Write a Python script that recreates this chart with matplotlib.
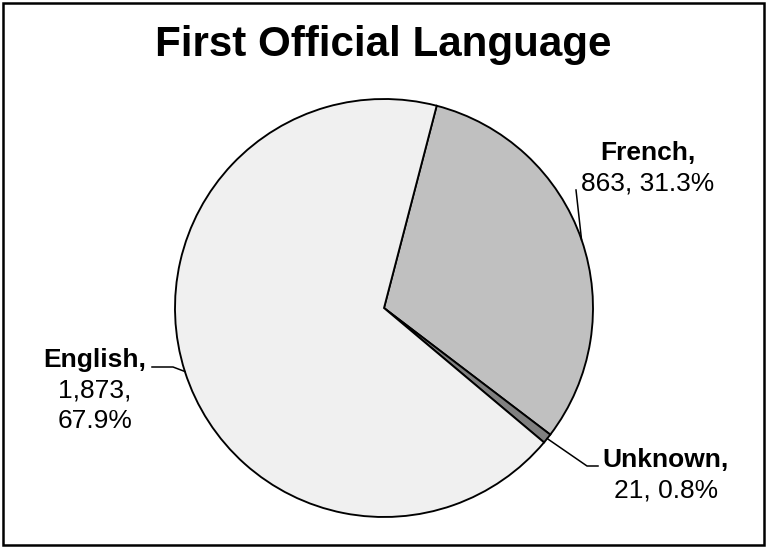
import matplotlib.pyplot as plt
import numpy as np
from matplotlib.patches import Rectangle

# данные
languages = ["French", "Unknown", "English"]
counts = [863, 21, 1873]
shares = ["31.3%", "0.8%", "67.9%"]
colours = ["#c0c0c0", "#808080", "#f0f0f0"]

W, H = 767, 548
CX, CY, R = 384, 308, 209

plt.rcParams["font.family"] = ["Liberation Sans", "DejaVu Sans"]

fig = plt.figure(figsize=(W / 100, H / 100), dpi=100)

# рамка вокруг всего рисунка
fig.patches.append(
    Rectangle((3 / W, 3 / H), (W - 6) / W, (H - 6) / H, transform=fig.transFigure,
              fill=False, edgecolor="black", linewidth=1.8)
)

fig.text(0.5, 1 - 45 / H, "First Official Language", ha="center", va="center",
         fontsize=30.3, fontweight="bold")

# оси под круг в пикселях
ax = fig.add_axes([(CX - R) / W, (H - CY - R) / H, 2 * R / W, 2 * R / H])
wedges, _ = ax.pie(counts, colors=colours, startangle=75.4, counterclock=False,
                   radius=1, wedgeprops={"edgecolor": "black", "linewidth": 1.35})
ax.set_xlim(-1, 1)
ax.set_ylim(-1, 1)
ax.axis("off")


def to_data(px, py):
    return (px - CX) / R, (CY - py) / R


def edge_point(w):
    a = np.deg2rad((w.theta1 + w.theta2) / 2)
    return np.cos(a), np.sin(a)


# линии-выноски: точки излома в пикселях
elbows = {
    "French": [(576, 190)],
    "Unknown": [(587, 466), (598, 466)],
    "English": [(173, 367), (152, 367)],
}
for name, w in zip(languages, wedges):
    pts = [edge_point(w)] + [to_data(*p) for p in elbows[name]]
    xs, ys = zip(*pts)
    ax.plot(xs, ys, color="black", linewidth=1.1, clip_on=False)


def label(x, base, bold, lines):
    fig.text(x / W, 1 - base / H, bold, ha="center", va="baseline",
             fontsize=19, fontweight="bold")
    for i, s in enumerate(lines):
        fig.text(x / W, 1 - (base + 30.5 * (i + 1)) / H, s, ha="center",
                 va="baseline", fontsize=19)


label(648, 160, "French,", [f"{counts[0]:,}, {shares[0]}"])
label(666, 467, "Unknown,", [f"{counts[1]:,}, {shares[1]}"])
label(95, 367, "English,", [f"{counts[2]:,},", shares[2]])

fig.savefig("out.png", dpi=100)
